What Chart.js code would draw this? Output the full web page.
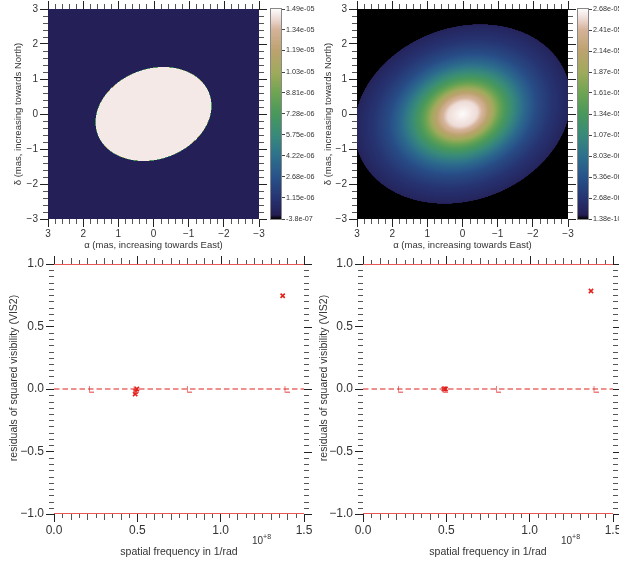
<!DOCTYPE html>
<html>
<head>
<meta charset="utf-8">
<script src="https://cdn.jsdelivr.net/npm/chart.js@4.4.1/dist/chart.umd.min.js"></script>
<style>
    html, body { margin: 0; padding: 0; background: #fff; }
    #figure { position: relative; width: 619px; height: 565px; overflow: hidden; background: #fff; }
    #figure canvas { position: absolute; }
</style>
</head>
<body>
<div id="figure">
    <canvas id="skyLeft"></canvas>
    <canvas id="skyRight"></canvas>
    <canvas id="barLeft"></canvas>
    <canvas id="barRight"></canvas>
    <canvas id="residLeft"></canvas>
    <canvas id="residRight"></canvas>
</div>
<script>
// --- tick labels -----------------------------------------------------------
const skyTicks = [-3, -2, -1, 0, 1, 2, 3];                 // mas
const freqTicks = [0, 0.5e8, 1.0e8, 1.5e8];                // 1/rad
const residTicks = [-1, -0.5, 0, 0.5, 1];
const leftBarTicks = [-3.8e-7, 1.15e-6, 2.68e-6, 4.22e-6, 5.75e-6, 7.28e-6,
    8.81e-6, 1.03e-5, 1.19e-5, 1.34e-5, 1.49e-5];
const leftBarLabels = ["-3.8e-07", "1.15e-06", "2.68e-06", "4.22e-06", "5.75e-06", "7.28e-06",
    "8.81e-06", "1.03e-05", "1.19e-05", "1.34e-05", "1.49e-05"];
const rightBarTicks = [1.38e-10, 2.68e-6, 5.36e-6, 8.03e-6, 1.07e-5, 1.34e-5,
    1.61e-5, 1.87e-5, 2.14e-5, 2.41e-5, 2.68e-5];
const rightBarLabels = ["1.38e-10", "2.68e-06", "5.36e-06", "8.03e-06", "1.07e-05", "1.34e-05",
    "1.61e-05", "1.87e-05", "2.14e-05", "2.41e-05", "2.68e-05"];

// --- left image: uniform tilted disk ---------------------------------------
const diskCentre = [0, 0];            // alpha, delta (mas)
const diskSemiAxes = [1.69, 1.29];    // mas
const diskTilt = [20];                // deg, major axis rising towards West
const diskLevel = [1.45e-5];
const diskBackground = [0];

// --- right image: smooth tilted blob, profile along the major axis ---------
const blobRadius = [0, 0.43, 0.62, 0.85, 1.14, 1.48, 1.79, 2.14, 2.6, 3.15];
const blobLevel = [2.68e-5, 2.56e-5, 2.36e-5, 1.96e-5, 1.48e-5, 1.07e-5, 7.5e-6, 4.8e-6, 2.7e-6, 1.1e-6];
const blobAxisRatio = [0.78];
const blobTilt = [21];
const blobOutside = [1.38e-10];

// --- residuals ---------------------------------------------------------------
const modelFreq = [0.222e8, 0.49e8, 0.81e8, 1.395e8];
const modelResid = [0, 0, 0, 0];
const leftFreq = [0.497e8, 0.49e8, 0.487e8, 1.372e8];
const leftResid = [0.0, -0.02, -0.04, 0.746];
const rightFreq = [0.485e8, 0.49e8, 0.495e8, 1.368e8];
const rightResid = [0, 0, 0, 0.784];
const limitLevels = [1, -1];
const zeroLevel = [0];

const TEXT = "#333";
const FONT = '"Liberation Sans", Arial, sans-serif';
Chart.defaults.font.family = FONT;
Chart.defaults.color = TEXT;

const gistEarth = [
    [0.00, 0, 0, 0],
    [0.02, 36, 30, 84],
    [0.10, 38, 52, 114],
    [0.20, 40, 82, 138],
    [0.30, 45, 112, 140],
    [0.40, 56, 138, 122],
    [0.50, 72, 152, 92],
    [0.60, 110, 164, 82],
    [0.70, 160, 170, 92],
    [0.80, 188, 162, 110],
    [0.90, 212, 178, 152],
    [0.95, 236, 216, 210],
    [1.00, 253, 251, 251]
];

function colour(f) {
    const t = Math.min(1, Math.max(0, f));
    for (let i = 1; i < gistEarth.length; i++) {
        const hi = gistEarth[i];
        if (t <= hi[0]) {
            const lo = gistEarth[i - 1];
            const k = (t - lo[0]) / (hi[0] - lo[0]);
            return [1, 2, 3].map((c) => Math.round(lo[c] + (hi[c] - lo[c]) * k));
        }
    }
    return gistEarth[gistEarth.length - 1].slice(1);
}

function tiltedRadius(ra, dec, axes, tiltDeg) {
    const t = tiltDeg * Math.PI / 180;
    const u = -ra;   // West is to the right on the sky plot
    const v = dec;
    const p = u * Math.cos(t) + v * Math.sin(t);
    const q = -u * Math.sin(t) + v * Math.cos(t);
    return Math.hypot(p / axes[0], q / axes[1]);
}

const models = {
    disk(ra, dec) {
        const r = tiltedRadius(ra - diskCentre[0], dec - diskCentre[1], diskSemiAxes, diskTilt[0]);
        return r <= 1 ? diskLevel[0] : diskBackground[0];
    },
    blob(ra, dec) {
        const rho = tiltedRadius(ra, dec, [1, blobAxisRatio[0]], blobTilt[0]);
        if (rho > blobRadius[blobRadius.length - 1]) {
            return blobOutside[0];
        }
        for (let i = 1; i < blobRadius.length; i++) {
            if (rho <= blobRadius[i]) {
                const k = (rho - blobRadius[i - 1]) / (blobRadius[i] - blobRadius[i - 1]);
                return blobLevel[i - 1] + (blobLevel[i] - blobLevel[i - 1]) * k;
            }
        }
        return blobOutside[0];
    }
};

function canvas(id, left, top, width, height) {
    const el = document.getElementById(id);
    el.width = width;
    el.height = height;
    el.style.left = `${left}px`;
    el.style.top = `${top}px`;
    el.style.width = `${width}px`;
    el.style.height = `${height}px`;
    return el;
}

function fixedTicks(values) {
    return (scale) => {
        scale.ticks = values.map((value) => ({value}));
    };
}

function fixSize(size) {
    return (scale) => {
        if (scale.isHorizontal()) {
            scale.height = size;
        } else {
            scale.width = size;
        }
        scale.paddingLeft = 0;
        scale.paddingRight = 0;
        scale.paddingTop = 0;
        scale.paddingBottom = 0;
    };
}

function minus(text) {
    return text.replace("-", "\u2212");
}

function isMultiple(v, m) {
    return Math.abs(v / m - Math.round(v / m)) < 1e-6;
}

// image drawn from the model, sampled through the chart's scales
const skyImage = {
    id: "skyImage",
    beforeDatasetsDraw(chart, args, opts) {
        const {ctx, chartArea: a, scales: {x, y}} = chart;
        const w = Math.round(a.right - a.left);
        const h = Math.round(a.bottom - a.top);
        const off = document.createElement("canvas");
        off.width = w;
        off.height = h;
        const g = off.getContext("2d");
        const img = g.createImageData(w, h);
        const model = models[opts.model];
        for (let j = 0; j < h; j++) {
            for (let i = 0; i < w; i++) {
                let sum = 0;
                for (let s = 0; s < 2; s++) {
                    for (let r = 0; r < 2; r++) {
                        const ra = x.getValueForPixel(a.left + i + 0.25 + 0.5 * s);
                        const dec = y.getValueForPixel(a.top + j + 0.25 + 0.5 * r);
                        sum += model(ra, dec);
                    }
                }
                const c = colour((sum / 4 - opts.min) / (opts.max - opts.min));
                const k = (j * w + i) * 4;
                img.data[k] = c[0];
                img.data[k + 1] = c[1];
                img.data[k + 2] = c[2];
                img.data[k + 3] = 255;
            }
        }
        g.putImageData(img, 0, 0);
        ctx.drawImage(off, a.left, a.top);
    }
};

const colourStrip = {
    id: "colourStrip",
    beforeDatasetsDraw(chart, args, opts) {
        const {ctx, chartArea: a, scales: {y}} = chart;
        for (let py = Math.floor(a.top); py < a.bottom; py++) {
            const v = y.getValueForPixel(py + 0.5);
            const c = colour((v - opts.min) / (opts.max - opts.min));
            ctx.fillStyle = `rgb(${c[0]},${c[1]},${c[2]})`;
            ctx.fillRect(a.left, py, a.right - a.left, 1);
        }
        ctx.strokeStyle = "#888";
        ctx.lineWidth = 1;
        ctx.strokeRect(a.left - 0.5, a.top - 0.5, a.right - a.left + 1, a.bottom - a.top + 1);
    }
};

// minor ticks all round, and major ticks mirrored on top and right
const frameTicks = {
    id: "frameTicks",
    afterDraw(chart, args, opts) {
        const {ctx, chartArea: a, scales} = chart;
        ctx.save();
        ctx.lineWidth = 1;
        const line = (x1, y1, x2, y2, stroke) => {
            ctx.strokeStyle = stroke;
            ctx.beginPath();
            ctx.moveTo(x1, y1);
            ctx.lineTo(x2, y2);
            ctx.stroke();
        };
        ["x", "y"].forEach((axis) => {
            const o = opts[axis];
            const scale = scales[axis];
            const n = Math.round((o.to - o.from) / o.step);
            for (let i = 0; i <= n; i++) {
                const v = o.from + i * o.step;
                const major = isMultiple(v, o.major);
                const mid = o.mid && isMultiple(v, o.mid);
                const len = major ? o.majorLength : (mid ? o.midLength : o.minorLength);
                const stroke = major ? opts.majorColour : opts.minorColour;
                const p = Math.round(scale.getPixelForValue(v)) + 0.5;
                if (axis === "x") {
                    if (!major) {
                        line(p, a.bottom, p, a.bottom + len, stroke);
                    }
                    line(p, a.top, p, a.top - len, stroke);
                } else {
                    if (!major) {
                        line(a.left, p, a.left - len, p, stroke);
                    }
                    line(a.right, p, a.right + len, p, stroke);
                }
            }
        });
        ctx.restore();
    }
};

const sideNotes = {
    id: "sideNotes",
    afterDraw(chart, args, opts) {
        const {ctx, chartArea: a} = chart;
        ctx.save();
        ctx.fillStyle = TEXT;
        ctx.translate(opts.titleX, (a.top + a.bottom) / 2 - opts.titleLift);
        ctx.rotate(-Math.PI / 2);
        ctx.font = `10.5px ${FONT}`;
        ctx.textAlign = "center";
        ctx.textBaseline = "middle";
        ctx.fillText(opts.title, 0, 0);
        ctx.restore();

        ctx.save();
        ctx.fillStyle = TEXT;
        ctx.textAlign = "left";
        ctx.textBaseline = "alphabetic";
        const x0 = a.right - 52;
        const y0 = a.bottom + 30;
        ctx.font = `10px ${FONT}`;
        ctx.fillText("10", x0, y0);
        const w = ctx.measureText("10").width;
        ctx.font = `7px ${FONT}`;
        ctx.fillText("+8", x0 + w, y0 - 5);
        ctx.restore();
    }
};

function skyScale(horizontal, text, size) {
    return {
        type: "linear",
        min: -3,
        max: 3,
        reverse: horizontal,
        afterBuildTicks: fixedTicks(skyTicks),
        afterFit: fixSize(size),
        border: {display: false},
        grid: {drawOnChartArea: false, tickLength: 8, tickColor: "#222"},
        ticks: {
            autoSkip: false,
            maxRotation: 0,
            padding: horizontal ? 1 : 2,
            font: {size: 10},
            color: TEXT,
            callback: (value) => minus(String(value))
        },
        title: {
            display: true,
            text: text,
            color: TEXT,
            font: {size: 9.5},
            padding: horizontal ? {top: 0, bottom: 4} : {top: 13, bottom: 0}
        }
    };
}

function skyChart(id, left, width, yWidth, padRight, model, bar) {
    return new Chart(canvas(id, left, 0, width, 255), {
        type: "scatter",
        data: {datasets: []},
        options: {
            responsive: false,
            devicePixelRatio: 1,
            animation: false,
            layout: {padding: {left: 0, top: 9, right: padRight, bottom: 0}, autoPadding: false},
            plugins: {
                legend: {display: false},
                tooltip: {enabled: false},
                skyImage: {model: model, min: bar[0], max: bar[bar.length - 1]},
                frameTicks: {
                    majorColour: "#222",
                    minorColour: "#555",
                    x: {from: -3, to: 3, step: 0.2, major: 1, majorLength: 8, minorLength: 5},
                    y: {from: -3, to: 3, step: 0.2, major: 1, majorLength: 8, minorLength: 5}
                }
            },
            scales: {
                x: skyScale(true, "\u03b1 (mas, increasing towards East)", 36),
                y: skyScale(false, "\u03b4 (mas, increasing towards North)", yWidth)
            }
        },
        plugins: [skyImage, frameTicks]
    });
}

function colourBar(id, left, width, padLeft, scaleWidth, ticks, labels) {
    return new Chart(canvas(id, left, 0, width, 235), {
        type: "scatter",
        data: {datasets: []},
        options: {
            responsive: false,
            devicePixelRatio: 1,
            animation: false,
            layout: {padding: {left: padLeft, top: 9, right: 0, bottom: 16}, autoPadding: false},
            plugins: {
                legend: {display: false},
                tooltip: {enabled: false},
                colourStrip: {min: ticks[0], max: ticks[ticks.length - 1]}
            },
            scales: {
                x: {display: false},
                y: {
                    type: "linear",
                    position: "right",
                    min: ticks[0],
                    max: ticks[ticks.length - 1],
                    afterBuildTicks: fixedTicks(ticks),
                    afterFit: fixSize(scaleWidth),
                    border: {display: false},
                    grid: {drawOnChartArea: false, tickLength: 4, tickColor: "#444"},
                    ticks: {
                        autoSkip: false,
                        padding: 1,
                        font: {size: 7.2},
                        color: TEXT,
                        callback: (value, index) => labels[index]
                    }
                }
            }
        },
        plugins: [colourStrip]
    });
}

function points(xs, ys) {
    return xs.map((x, i) => ({x, y: ys[i]}));
}

function lMarker(stroke) {
    const c = document.createElement("canvas");
    c.width = 6;
    c.height = 7;
    const g = c.getContext("2d");
    g.strokeStyle = stroke;
    g.lineWidth = 1;
    g.beginPath();
    g.moveTo(1.5, 0);
    g.lineTo(1.5, 6.5);
    g.lineTo(6, 6.5);
    g.stroke();
    return c;
}

function residualChart(id, left, width, yWidth, padRight, freq, resid) {
    const span = [freqTicks[0], freqTicks[freqTicks.length - 1]];
    const datasets = limitLevels.map((level) => ({
        data: span.map((x) => ({x, y: level})),
        showLine: true,
        borderColor: "#e0201c",
        borderWidth: 1.3,
        pointRadius: 0
    }));
    datasets.push({
        data: span.map((x) => ({x, y: zeroLevel[0]})),
        showLine: true,
        borderColor: "#dd231d",
        borderWidth: 1.2,
        borderDash: [5.5, 3],
        pointRadius: 0
    });
    datasets.push({
        data: points(modelFreq, modelResid),
        pointStyle: lMarker("rgba(236,90,90,0.8)"),
        pointRadius: 3
    });
    datasets.push({
        data: points(freq, resid),
        pointStyle: "crossRot",
        pointRadius: 3,
        borderColor: "#e3211d",
        backgroundColor: "#e3211d",
        borderWidth: 1.6
    });
    return new Chart(canvas(id, left, 255, width, 310), {
        type: "scatter",
        data: {datasets},
        options: {
            responsive: false,
            devicePixelRatio: 1,
            animation: false,
            layout: {padding: {left: 0, top: 9, right: padRight, bottom: 0}, autoPadding: false},
            plugins: {
                legend: {display: false},
                tooltip: {enabled: false},
                frameTicks: {
                    majorColour: "#222",
                    minorColour: "#555",
                    x: {from: 0, to: 1.5e8, step: 0.05e8, major: 0.5e8, mid: 0.1e8,
                        majorLength: 8, midLength: 6, minorLength: 4},
                    y: {from: -1, to: 1, step: 0.05, major: 0.5, majorLength: 8, minorLength: 5}
                },
                sideNotes: {title: "residuals of squared visibility (VIS2)", titleX: 14, titleLift: 11}
            },
            scales: {
                x: {
                    type: "linear",
                    min: span[0],
                    max: span[1],
                    afterBuildTicks: fixedTicks(freqTicks),
                    afterFit: fixSize(51),
                    border: {display: false},
                    grid: {drawOnChartArea: false, tickLength: 8, tickColor: "#222"},
                    ticks: {
                        autoSkip: false,
                        maxRotation: 0,
                        padding: 1,
                        font: {size: 12},
                        color: TEXT,
                        callback: (value) => (value / 1e8).toFixed(1)
                    },
                    title: {
                        display: true,
                        text: "spatial frequency in 1/rad",
                        color: TEXT,
                        font: {size: 10.5},
                        padding: {top: 0, bottom: 6.7}
                    }
                },
                y: {
                    type: "linear",
                    min: residTicks[0],
                    max: residTicks[residTicks.length - 1],
                    afterBuildTicks: fixedTicks(residTicks),
                    afterFit: fixSize(yWidth),
                    border: {display: false},
                    grid: {drawOnChartArea: false, tickLength: 8, tickColor: "#222"},
                    ticks: {
                        autoSkip: false,
                        padding: 2,
                        font: {size: 12},
                        color: TEXT,
                        callback: (value) => minus(value.toFixed(1))
                    }
                }
            }
        },
        plugins: [frameTicks, sideNotes]
    });
}

skyChart("skyLeft", 0, 310, 48, 51, "disk", leftBarTicks);
skyChart("skyRight", 310, 309, 47, 51, "blob", rightBarTicks);
colourBar("barLeft", 259, 60, 12, 38, leftBarTicks, leftBarLabels);
colourBar("barRight", 568, 51, 10, 31, rightBarTicks, rightBarLabels);
residualChart("residLeft", 0, 312, 54, 8, leftFreq, leftResid);
residualChart("residRight", 310, 309, 53, 6, rightFreq, rightResid);
</script>
</body>
</html>
